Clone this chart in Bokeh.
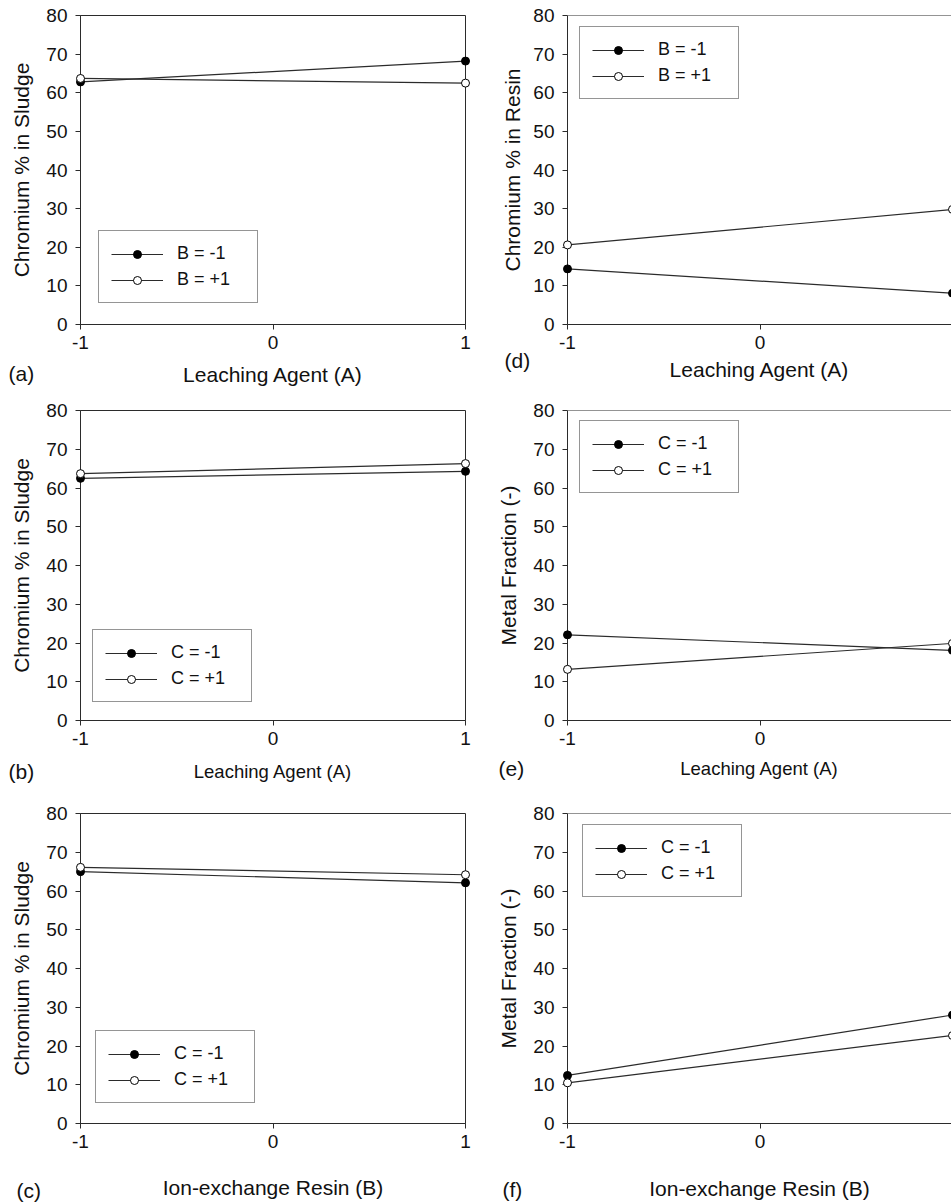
from bokeh.core.properties import value
from bokeh.embed import file_html
from bokeh.layouts import column, row
from bokeh.models import (CustomJSTickFormatter, FixedTicker, Legend,
                          LegendItem, Range1d, Span)
from bokeh.plotting import figure
from bokeh.resources import INLINE

FONT = "Liberation Sans"
INK = "#2b2b2b"

# coded factor levels on the x axis
coded_levels = [-1, 1]
x_tick_values = [-1, 0, 1]
y_tick_values = [0, 10, 20, 30, 40, 50, 60, 70, 80]

# (a) chromium in sludge vs leaching agent (A), lines for resin level B
a_low = [62.8, 68.2]
a_high = [63.7, 62.5]
# (b) chromium in sludge vs leaching agent (A), lines for C
b_low = [62.5, 64.3]
b_high = [63.7, 66.3]
# (c) chromium in sludge vs ion-exchange resin (B), lines for C
c_low = [65.0, 62.1]
c_high = [66.1, 64.2]
# (d) chromium in resin vs leaching agent (A), lines for B
d_low = [14.4, 8.1]
d_high = [20.6, 29.8]
# (e) metal fraction vs leaching agent (A), lines for C
e_low = [22.1, 18.1]
e_high = [13.2, 19.9]
# (f) metal fraction vs ion-exchange resin (B), lines for C
f_low = [12.4, 28.0]
f_high = [10.5, 22.7]

# plain hyphen-minus for the coded levels
plain_ticks = CustomJSTickFormatter(code="return tick.toString();")


def panel(tag, x_title, y_title, factor, low, high, right_col, top, frame_h,
          bottom, x_title_size, x_title_gap, y_title_gap, tag_offset, legend_xy):
    if right_col:
        left_border, frame_w, right_border = 87, 384, 0
        x_end = -1 + 2 * 384 / 385
    else:
        left_border, frame_w, right_border = 80, 385, 15
        x_end = 1
    p = figure(frame_width=frame_w, frame_height=frame_h,
               min_border_left=left_border, min_border_right=right_border,
               min_border_top=top, min_border_bottom=bottom,
               x_range=Range1d(-1, x_end), y_range=Range1d(0, 80),
               output_backend="svg", toolbar_location=None,
               background_fill_color="white", border_fill_color="white")
    p.grid.visible = False
    if right_col:
        p.outline_line_color = None
        p.add_layout(Span(location=80, dimension="width", line_color=INK,
                          line_width=1))
    else:
        p.outline_line_color = INK
        p.outline_line_width = 1

    for ax in (p.xaxis[0], p.yaxis[0]):
        ax.axis_line_color = INK
        ax.major_tick_line_color = INK
        ax.major_tick_in = 0
        ax.major_tick_out = 5
        ax.minor_tick_line_color = None
        ax.major_label_text_font = FONT
        ax.major_label_text_font_size = "19px"
        ax.major_label_text_color = "#111111"
        ax.axis_label_text_font = FONT
        ax.axis_label_text_font_style = "normal"
        ax.axis_label_text_color = "#111111"
    p.xaxis.ticker = FixedTicker(ticks=x_tick_values)
    p.xaxis.formatter = plain_ticks
    p.yaxis.ticker = FixedTicker(ticks=y_tick_values)
    p.xaxis.major_label_standoff = 6
    p.yaxis.major_label_standoff = 8
    p.xaxis.axis_label = x_title
    p.xaxis.axis_label_text_font_size = x_title_size
    p.xaxis.axis_label_standoff = x_title_gap
    p.yaxis.axis_label = y_title
    p.yaxis.axis_label_text_font_size = "21px"
    p.yaxis.axis_label_standoff = y_title_gap

    l1 = p.line(coded_levels, low, line_color=INK, line_width=1.2)
    s1 = p.scatter(coded_levels, low, marker="circle", size=8,
                   fill_color="black", line_color="black", level="overlay")
    l2 = p.line(coded_levels, high, line_color=INK, line_width=1.2)
    s2 = p.scatter(coded_levels, high, marker="circle", size=8,
                   fill_color="white", line_color="black", line_width=1,
                   level="overlay")

    legend = Legend(items=[
        LegendItem(label=f"{factor} = -1", renderers=[l1, s1]),
        LegendItem(label=f"{factor} = +1", renderers=[l2, s2]),
    ], location=legend_xy)
    legend.label_text_font = FONT
    legend.label_text_font_size = "18px"
    legend.label_text_color = "#111111"
    legend.glyph_width = 52
    legend.glyph_height = 20
    legend.label_height = 20
    legend.label_width = 68
    legend.label_standoff = 14
    legend.spacing = 5
    legend.padding = 12
    legend.margin = 0
    legend.border_line_color = INK
    legend.border_line_width = 1
    legend.background_fill_color = "white"
    legend.background_fill_alpha = 1
    p.add_layout(legend)

    # panel letter, anchored at the lower-left corner of the axes and
    # shifted out into the margin by a fixed pixel offset
    p.text(x=[coded_levels[0]], y=[y_tick_values[0]], text=[tag],
           x_offset=tag_offset[0], y_offset=tag_offset[1],
           text_font=value(FONT), text_font_size="21px", text_color="#111111",
           text_baseline="middle", text_align="left", level="overlay")
    return p


pa = panel("(a)", "Leaching Agent (A)", "Chromium % in Sludge", "B", a_low, a_high,
           False, 15, 309, 76, "21px", 11, 10, (-72, 49), (18, 21))
pd_ = panel("(d)", "Leaching Agent (A)", "Chromium % in Resin", "B", d_low, d_high,
            True, 15, 309, 76, "21px", 6, 6, (-63, 36), (12, 225))
pb = panel("(b)", "Leaching Agent (A)", "Chromium % in Sludge", "C", b_low, b_high,
           False, 10, 310, 80, "18.5px", 13, 10, (-72, 51), (12, 18))
pe = panel("(e)", "Leaching Agent (A)", "Metal Fraction (-)", "C", e_low, e_high,
           True, 10, 310, 80, "18.5px", 10, 10, (-69, 48), (12, 227))
pc = panel("(c)", "Ion-exchange Resin (B)", "Chromium % in Sludge", "C", c_low, c_high,
           False, 13, 310, 81, "21px", 25, 10, (-64, 67), (15, 20))
pf = panel("(f)", "Ion-exchange Resin (B)", "Metal Fraction (-)", "C", f_low, f_high,
           True, 13, 310, 81, "21px", 26, 10, (-65, 66), (15, 226))

layout = column(row(pa, pd_), row(pb, pe), row(pc, pf))
open("out.html", "w").write(file_html(layout, INLINE, title="Chromium distribution"))
